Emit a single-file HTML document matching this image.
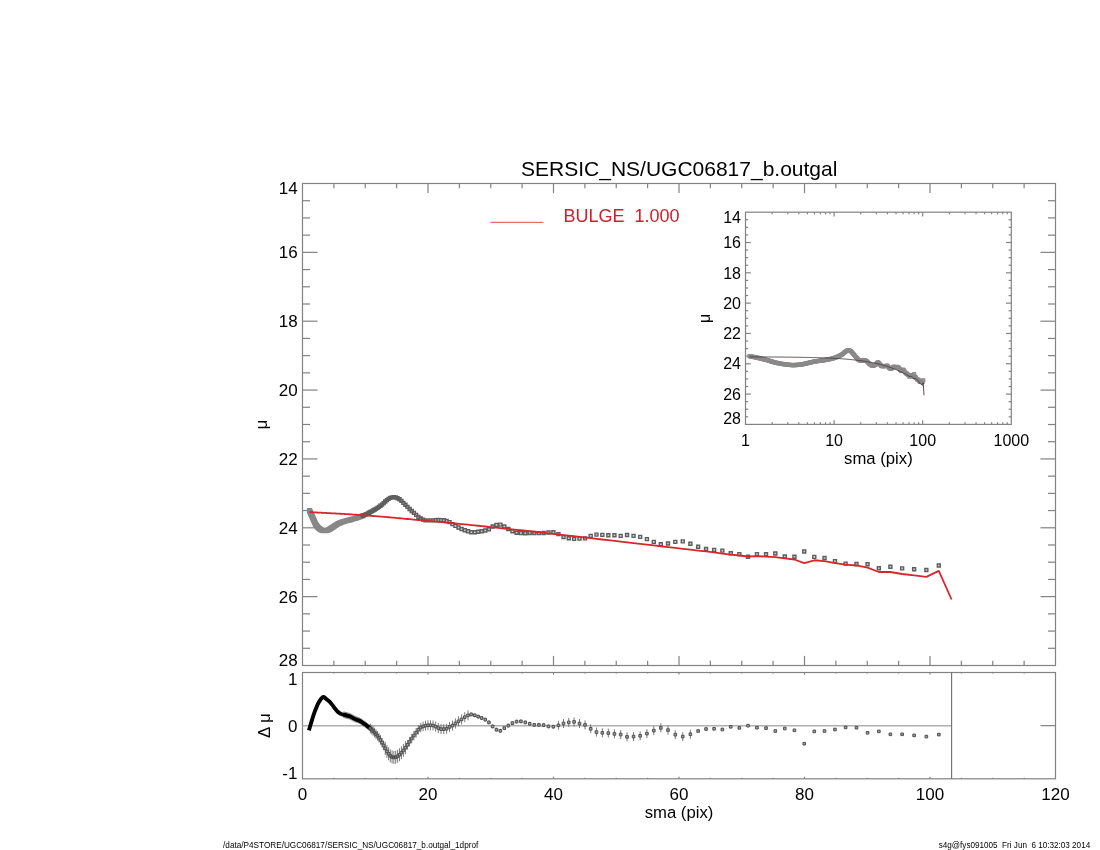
<!DOCTYPE html>
<html><head><meta charset="utf-8"><title>SERSIC_NS/UGC06817_b.outgal</title>
<style>
html,body{margin:0;padding:0;background:#fff;}
body{width:1100px;height:850px;overflow:hidden;}
svg{display:block;will-change:transform;filter:blur(0.4px);font-family:"Liberation Sans",Arial,Helvetica,sans-serif;}
</style></head><body>
<svg width="1100" height="850" viewBox="0 0 1100 850">
<rect width="1100" height="850" fill="#fff"/>
<rect x="302.5" y="183.5" width="753.00" height="482.00" fill="none" stroke="#828282" stroke-width="1.2"/>
<line x1="302.50" y1="200.71" x2="310.00" y2="200.71" stroke="#828282" stroke-width="1.2"/>
<line x1="1055.50" y1="200.71" x2="1048.00" y2="200.71" stroke="#828282" stroke-width="1.2"/>
<line x1="302.50" y1="217.93" x2="310.00" y2="217.93" stroke="#828282" stroke-width="1.2"/>
<line x1="1055.50" y1="217.93" x2="1048.00" y2="217.93" stroke="#828282" stroke-width="1.2"/>
<line x1="302.50" y1="235.14" x2="310.00" y2="235.14" stroke="#828282" stroke-width="1.2"/>
<line x1="1055.50" y1="235.14" x2="1048.00" y2="235.14" stroke="#828282" stroke-width="1.2"/>
<line x1="302.50" y1="252.36" x2="317.50" y2="252.36" stroke="#828282" stroke-width="1.2"/>
<line x1="1055.50" y1="252.36" x2="1040.50" y2="252.36" stroke="#828282" stroke-width="1.2"/>
<line x1="302.50" y1="269.57" x2="310.00" y2="269.57" stroke="#828282" stroke-width="1.2"/>
<line x1="1055.50" y1="269.57" x2="1048.00" y2="269.57" stroke="#828282" stroke-width="1.2"/>
<line x1="302.50" y1="286.79" x2="310.00" y2="286.79" stroke="#828282" stroke-width="1.2"/>
<line x1="1055.50" y1="286.79" x2="1048.00" y2="286.79" stroke="#828282" stroke-width="1.2"/>
<line x1="302.50" y1="304.00" x2="310.00" y2="304.00" stroke="#828282" stroke-width="1.2"/>
<line x1="1055.50" y1="304.00" x2="1048.00" y2="304.00" stroke="#828282" stroke-width="1.2"/>
<line x1="302.50" y1="321.21" x2="317.50" y2="321.21" stroke="#828282" stroke-width="1.2"/>
<line x1="1055.50" y1="321.21" x2="1040.50" y2="321.21" stroke="#828282" stroke-width="1.2"/>
<line x1="302.50" y1="338.43" x2="310.00" y2="338.43" stroke="#828282" stroke-width="1.2"/>
<line x1="1055.50" y1="338.43" x2="1048.00" y2="338.43" stroke="#828282" stroke-width="1.2"/>
<line x1="302.50" y1="355.64" x2="310.00" y2="355.64" stroke="#828282" stroke-width="1.2"/>
<line x1="1055.50" y1="355.64" x2="1048.00" y2="355.64" stroke="#828282" stroke-width="1.2"/>
<line x1="302.50" y1="372.86" x2="310.00" y2="372.86" stroke="#828282" stroke-width="1.2"/>
<line x1="1055.50" y1="372.86" x2="1048.00" y2="372.86" stroke="#828282" stroke-width="1.2"/>
<line x1="302.50" y1="390.07" x2="317.50" y2="390.07" stroke="#828282" stroke-width="1.2"/>
<line x1="1055.50" y1="390.07" x2="1040.50" y2="390.07" stroke="#828282" stroke-width="1.2"/>
<line x1="302.50" y1="407.29" x2="310.00" y2="407.29" stroke="#828282" stroke-width="1.2"/>
<line x1="1055.50" y1="407.29" x2="1048.00" y2="407.29" stroke="#828282" stroke-width="1.2"/>
<line x1="302.50" y1="424.50" x2="310.00" y2="424.50" stroke="#828282" stroke-width="1.2"/>
<line x1="1055.50" y1="424.50" x2="1048.00" y2="424.50" stroke="#828282" stroke-width="1.2"/>
<line x1="302.50" y1="441.71" x2="310.00" y2="441.71" stroke="#828282" stroke-width="1.2"/>
<line x1="1055.50" y1="441.71" x2="1048.00" y2="441.71" stroke="#828282" stroke-width="1.2"/>
<line x1="302.50" y1="458.93" x2="317.50" y2="458.93" stroke="#828282" stroke-width="1.2"/>
<line x1="1055.50" y1="458.93" x2="1040.50" y2="458.93" stroke="#828282" stroke-width="1.2"/>
<line x1="302.50" y1="476.14" x2="310.00" y2="476.14" stroke="#828282" stroke-width="1.2"/>
<line x1="1055.50" y1="476.14" x2="1048.00" y2="476.14" stroke="#828282" stroke-width="1.2"/>
<line x1="302.50" y1="493.36" x2="310.00" y2="493.36" stroke="#828282" stroke-width="1.2"/>
<line x1="1055.50" y1="493.36" x2="1048.00" y2="493.36" stroke="#828282" stroke-width="1.2"/>
<line x1="302.50" y1="510.57" x2="310.00" y2="510.57" stroke="#828282" stroke-width="1.2"/>
<line x1="1055.50" y1="510.57" x2="1048.00" y2="510.57" stroke="#828282" stroke-width="1.2"/>
<line x1="302.50" y1="527.79" x2="317.50" y2="527.79" stroke="#828282" stroke-width="1.2"/>
<line x1="1055.50" y1="527.79" x2="1040.50" y2="527.79" stroke="#828282" stroke-width="1.2"/>
<line x1="302.50" y1="545.00" x2="310.00" y2="545.00" stroke="#828282" stroke-width="1.2"/>
<line x1="1055.50" y1="545.00" x2="1048.00" y2="545.00" stroke="#828282" stroke-width="1.2"/>
<line x1="302.50" y1="562.21" x2="310.00" y2="562.21" stroke="#828282" stroke-width="1.2"/>
<line x1="1055.50" y1="562.21" x2="1048.00" y2="562.21" stroke="#828282" stroke-width="1.2"/>
<line x1="302.50" y1="579.43" x2="310.00" y2="579.43" stroke="#828282" stroke-width="1.2"/>
<line x1="1055.50" y1="579.43" x2="1048.00" y2="579.43" stroke="#828282" stroke-width="1.2"/>
<line x1="302.50" y1="596.64" x2="317.50" y2="596.64" stroke="#828282" stroke-width="1.2"/>
<line x1="1055.50" y1="596.64" x2="1040.50" y2="596.64" stroke="#828282" stroke-width="1.2"/>
<line x1="302.50" y1="613.86" x2="310.00" y2="613.86" stroke="#828282" stroke-width="1.2"/>
<line x1="1055.50" y1="613.86" x2="1048.00" y2="613.86" stroke="#828282" stroke-width="1.2"/>
<line x1="302.50" y1="631.07" x2="310.00" y2="631.07" stroke="#828282" stroke-width="1.2"/>
<line x1="1055.50" y1="631.07" x2="1048.00" y2="631.07" stroke="#828282" stroke-width="1.2"/>
<line x1="302.50" y1="648.29" x2="310.00" y2="648.29" stroke="#828282" stroke-width="1.2"/>
<line x1="1055.50" y1="648.29" x2="1048.00" y2="648.29" stroke="#828282" stroke-width="1.2"/>
<line x1="333.88" y1="183.50" x2="333.88" y2="188.30" stroke="#828282" stroke-width="1.2"/>
<line x1="333.88" y1="665.50" x2="333.88" y2="660.70" stroke="#828282" stroke-width="1.2"/>
<line x1="365.25" y1="183.50" x2="365.25" y2="188.30" stroke="#828282" stroke-width="1.2"/>
<line x1="365.25" y1="665.50" x2="365.25" y2="660.70" stroke="#828282" stroke-width="1.2"/>
<line x1="396.62" y1="183.50" x2="396.62" y2="188.30" stroke="#828282" stroke-width="1.2"/>
<line x1="396.62" y1="665.50" x2="396.62" y2="660.70" stroke="#828282" stroke-width="1.2"/>
<line x1="428.00" y1="183.50" x2="428.00" y2="193.10" stroke="#828282" stroke-width="1.2"/>
<line x1="428.00" y1="665.50" x2="428.00" y2="655.90" stroke="#828282" stroke-width="1.2"/>
<line x1="459.38" y1="183.50" x2="459.38" y2="188.30" stroke="#828282" stroke-width="1.2"/>
<line x1="459.38" y1="665.50" x2="459.38" y2="660.70" stroke="#828282" stroke-width="1.2"/>
<line x1="490.75" y1="183.50" x2="490.75" y2="188.30" stroke="#828282" stroke-width="1.2"/>
<line x1="490.75" y1="665.50" x2="490.75" y2="660.70" stroke="#828282" stroke-width="1.2"/>
<line x1="522.12" y1="183.50" x2="522.12" y2="188.30" stroke="#828282" stroke-width="1.2"/>
<line x1="522.12" y1="665.50" x2="522.12" y2="660.70" stroke="#828282" stroke-width="1.2"/>
<line x1="553.50" y1="183.50" x2="553.50" y2="193.10" stroke="#828282" stroke-width="1.2"/>
<line x1="553.50" y1="665.50" x2="553.50" y2="655.90" stroke="#828282" stroke-width="1.2"/>
<line x1="584.88" y1="183.50" x2="584.88" y2="188.30" stroke="#828282" stroke-width="1.2"/>
<line x1="584.88" y1="665.50" x2="584.88" y2="660.70" stroke="#828282" stroke-width="1.2"/>
<line x1="616.25" y1="183.50" x2="616.25" y2="188.30" stroke="#828282" stroke-width="1.2"/>
<line x1="616.25" y1="665.50" x2="616.25" y2="660.70" stroke="#828282" stroke-width="1.2"/>
<line x1="647.62" y1="183.50" x2="647.62" y2="188.30" stroke="#828282" stroke-width="1.2"/>
<line x1="647.62" y1="665.50" x2="647.62" y2="660.70" stroke="#828282" stroke-width="1.2"/>
<line x1="679.00" y1="183.50" x2="679.00" y2="193.10" stroke="#828282" stroke-width="1.2"/>
<line x1="679.00" y1="665.50" x2="679.00" y2="655.90" stroke="#828282" stroke-width="1.2"/>
<line x1="710.38" y1="183.50" x2="710.38" y2="188.30" stroke="#828282" stroke-width="1.2"/>
<line x1="710.38" y1="665.50" x2="710.38" y2="660.70" stroke="#828282" stroke-width="1.2"/>
<line x1="741.75" y1="183.50" x2="741.75" y2="188.30" stroke="#828282" stroke-width="1.2"/>
<line x1="741.75" y1="665.50" x2="741.75" y2="660.70" stroke="#828282" stroke-width="1.2"/>
<line x1="773.12" y1="183.50" x2="773.12" y2="188.30" stroke="#828282" stroke-width="1.2"/>
<line x1="773.12" y1="665.50" x2="773.12" y2="660.70" stroke="#828282" stroke-width="1.2"/>
<line x1="804.50" y1="183.50" x2="804.50" y2="193.10" stroke="#828282" stroke-width="1.2"/>
<line x1="804.50" y1="665.50" x2="804.50" y2="655.90" stroke="#828282" stroke-width="1.2"/>
<line x1="835.88" y1="183.50" x2="835.88" y2="188.30" stroke="#828282" stroke-width="1.2"/>
<line x1="835.88" y1="665.50" x2="835.88" y2="660.70" stroke="#828282" stroke-width="1.2"/>
<line x1="867.25" y1="183.50" x2="867.25" y2="188.30" stroke="#828282" stroke-width="1.2"/>
<line x1="867.25" y1="665.50" x2="867.25" y2="660.70" stroke="#828282" stroke-width="1.2"/>
<line x1="898.62" y1="183.50" x2="898.62" y2="188.30" stroke="#828282" stroke-width="1.2"/>
<line x1="898.62" y1="665.50" x2="898.62" y2="660.70" stroke="#828282" stroke-width="1.2"/>
<line x1="930.00" y1="183.50" x2="930.00" y2="193.10" stroke="#828282" stroke-width="1.2"/>
<line x1="930.00" y1="665.50" x2="930.00" y2="655.90" stroke="#828282" stroke-width="1.2"/>
<line x1="961.38" y1="183.50" x2="961.38" y2="188.30" stroke="#828282" stroke-width="1.2"/>
<line x1="961.38" y1="665.50" x2="961.38" y2="660.70" stroke="#828282" stroke-width="1.2"/>
<line x1="992.75" y1="183.50" x2="992.75" y2="188.30" stroke="#828282" stroke-width="1.2"/>
<line x1="992.75" y1="665.50" x2="992.75" y2="660.70" stroke="#828282" stroke-width="1.2"/>
<line x1="1024.12" y1="183.50" x2="1024.12" y2="188.30" stroke="#828282" stroke-width="1.2"/>
<line x1="1024.12" y1="665.50" x2="1024.12" y2="660.70" stroke="#828282" stroke-width="1.2"/>
<text x="297.60" y="193.50" font-size="17" text-anchor="end" fill="#000" >14</text>
<text x="297.60" y="258.46" font-size="17" text-anchor="end" fill="#000" >16</text>
<text x="297.60" y="327.31" font-size="17" text-anchor="end" fill="#000" >18</text>
<text x="297.60" y="396.17" font-size="17" text-anchor="end" fill="#000" >20</text>
<text x="297.60" y="465.03" font-size="17" text-anchor="end" fill="#000" >22</text>
<text x="297.60" y="533.89" font-size="17" text-anchor="end" fill="#000" >24</text>
<text x="297.60" y="602.74" font-size="17" text-anchor="end" fill="#000" >26</text>
<text x="297.60" y="665.90" font-size="17" text-anchor="end" fill="#000" >28</text>
<text x="0" y="0" font-size="17" text-anchor="middle" transform="translate(267.0,424.50) rotate(-90)">&#956;</text>
<rect x="302.5" y="672.5" width="753.00" height="106.30" fill="none" stroke="#828282" stroke-width="1.2"/>
<line x1="333.88" y1="672.50" x2="333.88" y2="673.60" stroke="#828282" stroke-width="1.2"/>
<line x1="333.88" y1="778.80" x2="333.88" y2="777.70" stroke="#828282" stroke-width="1.2"/>
<line x1="365.25" y1="672.50" x2="365.25" y2="673.60" stroke="#828282" stroke-width="1.2"/>
<line x1="365.25" y1="778.80" x2="365.25" y2="777.70" stroke="#828282" stroke-width="1.2"/>
<line x1="396.62" y1="672.50" x2="396.62" y2="673.60" stroke="#828282" stroke-width="1.2"/>
<line x1="396.62" y1="778.80" x2="396.62" y2="777.70" stroke="#828282" stroke-width="1.2"/>
<line x1="428.00" y1="672.50" x2="428.00" y2="674.60" stroke="#828282" stroke-width="1.2"/>
<line x1="428.00" y1="778.80" x2="428.00" y2="776.70" stroke="#828282" stroke-width="1.2"/>
<line x1="459.38" y1="672.50" x2="459.38" y2="673.60" stroke="#828282" stroke-width="1.2"/>
<line x1="459.38" y1="778.80" x2="459.38" y2="777.70" stroke="#828282" stroke-width="1.2"/>
<line x1="490.75" y1="672.50" x2="490.75" y2="673.60" stroke="#828282" stroke-width="1.2"/>
<line x1="490.75" y1="778.80" x2="490.75" y2="777.70" stroke="#828282" stroke-width="1.2"/>
<line x1="522.12" y1="672.50" x2="522.12" y2="673.60" stroke="#828282" stroke-width="1.2"/>
<line x1="522.12" y1="778.80" x2="522.12" y2="777.70" stroke="#828282" stroke-width="1.2"/>
<line x1="553.50" y1="672.50" x2="553.50" y2="674.60" stroke="#828282" stroke-width="1.2"/>
<line x1="553.50" y1="778.80" x2="553.50" y2="776.70" stroke="#828282" stroke-width="1.2"/>
<line x1="584.88" y1="672.50" x2="584.88" y2="673.60" stroke="#828282" stroke-width="1.2"/>
<line x1="584.88" y1="778.80" x2="584.88" y2="777.70" stroke="#828282" stroke-width="1.2"/>
<line x1="616.25" y1="672.50" x2="616.25" y2="673.60" stroke="#828282" stroke-width="1.2"/>
<line x1="616.25" y1="778.80" x2="616.25" y2="777.70" stroke="#828282" stroke-width="1.2"/>
<line x1="647.62" y1="672.50" x2="647.62" y2="673.60" stroke="#828282" stroke-width="1.2"/>
<line x1="647.62" y1="778.80" x2="647.62" y2="777.70" stroke="#828282" stroke-width="1.2"/>
<line x1="679.00" y1="672.50" x2="679.00" y2="674.60" stroke="#828282" stroke-width="1.2"/>
<line x1="679.00" y1="778.80" x2="679.00" y2="776.70" stroke="#828282" stroke-width="1.2"/>
<line x1="710.38" y1="672.50" x2="710.38" y2="673.60" stroke="#828282" stroke-width="1.2"/>
<line x1="710.38" y1="778.80" x2="710.38" y2="777.70" stroke="#828282" stroke-width="1.2"/>
<line x1="741.75" y1="672.50" x2="741.75" y2="673.60" stroke="#828282" stroke-width="1.2"/>
<line x1="741.75" y1="778.80" x2="741.75" y2="777.70" stroke="#828282" stroke-width="1.2"/>
<line x1="773.12" y1="672.50" x2="773.12" y2="673.60" stroke="#828282" stroke-width="1.2"/>
<line x1="773.12" y1="778.80" x2="773.12" y2="777.70" stroke="#828282" stroke-width="1.2"/>
<line x1="804.50" y1="672.50" x2="804.50" y2="674.60" stroke="#828282" stroke-width="1.2"/>
<line x1="804.50" y1="778.80" x2="804.50" y2="776.70" stroke="#828282" stroke-width="1.2"/>
<line x1="835.88" y1="672.50" x2="835.88" y2="673.60" stroke="#828282" stroke-width="1.2"/>
<line x1="835.88" y1="778.80" x2="835.88" y2="777.70" stroke="#828282" stroke-width="1.2"/>
<line x1="867.25" y1="672.50" x2="867.25" y2="673.60" stroke="#828282" stroke-width="1.2"/>
<line x1="867.25" y1="778.80" x2="867.25" y2="777.70" stroke="#828282" stroke-width="1.2"/>
<line x1="898.62" y1="672.50" x2="898.62" y2="673.60" stroke="#828282" stroke-width="1.2"/>
<line x1="898.62" y1="778.80" x2="898.62" y2="777.70" stroke="#828282" stroke-width="1.2"/>
<line x1="930.00" y1="672.50" x2="930.00" y2="674.60" stroke="#828282" stroke-width="1.2"/>
<line x1="930.00" y1="778.80" x2="930.00" y2="776.70" stroke="#828282" stroke-width="1.2"/>
<line x1="961.38" y1="672.50" x2="961.38" y2="673.60" stroke="#828282" stroke-width="1.2"/>
<line x1="961.38" y1="778.80" x2="961.38" y2="777.70" stroke="#828282" stroke-width="1.2"/>
<line x1="992.75" y1="672.50" x2="992.75" y2="673.60" stroke="#828282" stroke-width="1.2"/>
<line x1="992.75" y1="778.80" x2="992.75" y2="777.70" stroke="#828282" stroke-width="1.2"/>
<line x1="1024.12" y1="672.50" x2="1024.12" y2="673.60" stroke="#828282" stroke-width="1.2"/>
<line x1="1024.12" y1="778.80" x2="1024.12" y2="777.70" stroke="#828282" stroke-width="1.2"/>
<line x1="1055.50" y1="725.65" x2="1040.50" y2="725.65" stroke="#828282" stroke-width="1.2"/>
<text x="297.40" y="684.60" font-size="17" text-anchor="end" fill="#000" >1</text>
<text x="297.40" y="731.75" font-size="17" text-anchor="end" fill="#000" >0</text>
<text x="297.40" y="779.00" font-size="17" text-anchor="end" fill="#000" >-1</text>
<text x="0" y="0" font-size="17" text-anchor="middle" transform="translate(270.0,725.65) rotate(-90)">&#916; &#956;</text>
<text x="302.50" y="800.10" font-size="17" text-anchor="middle" fill="#000" >0</text>
<text x="428.00" y="800.10" font-size="17" text-anchor="middle" fill="#000" >20</text>
<text x="553.50" y="800.10" font-size="17" text-anchor="middle" fill="#000" >40</text>
<text x="679.00" y="800.10" font-size="17" text-anchor="middle" fill="#000" >60</text>
<text x="804.50" y="800.10" font-size="17" text-anchor="middle" fill="#000" >80</text>
<text x="930.00" y="800.10" font-size="17" text-anchor="middle" fill="#000" >100</text>
<text x="1055.50" y="800.10" font-size="17" text-anchor="middle" fill="#000" >120</text>
<text x="679.00" y="818.00" font-size="16.7" text-anchor="middle" fill="#000" >sma (pix)</text>
<text x="679.20" y="175.50" font-size="21" text-anchor="middle" fill="#000" >SERSIC_NS/UGC06817_b.outgal</text>
<line x1="490.50" y1="222.30" x2="543.40" y2="222.30" stroke="#e3484d" stroke-width="1.0"/>
<text x="563.40" y="222.00" font-size="18" text-anchor="start" fill="#cf1f29" >BULGE&#160;&#160;1.000</text>
<rect x="745.5" y="212.2" width="265.80" height="212.20" fill="none" stroke="#828282" stroke-width="1.2"/>
<line x1="745.50" y1="219.78" x2="748.15" y2="219.78" stroke="#828282" stroke-width="1.2"/>
<line x1="1011.30" y1="219.78" x2="1008.65" y2="219.78" stroke="#828282" stroke-width="1.2"/>
<line x1="745.50" y1="227.36" x2="748.15" y2="227.36" stroke="#828282" stroke-width="1.2"/>
<line x1="1011.30" y1="227.36" x2="1008.65" y2="227.36" stroke="#828282" stroke-width="1.2"/>
<line x1="745.50" y1="234.94" x2="748.15" y2="234.94" stroke="#828282" stroke-width="1.2"/>
<line x1="1011.30" y1="234.94" x2="1008.65" y2="234.94" stroke="#828282" stroke-width="1.2"/>
<line x1="745.50" y1="242.51" x2="750.80" y2="242.51" stroke="#828282" stroke-width="1.2"/>
<line x1="1011.30" y1="242.51" x2="1006.00" y2="242.51" stroke="#828282" stroke-width="1.2"/>
<line x1="745.50" y1="250.09" x2="748.15" y2="250.09" stroke="#828282" stroke-width="1.2"/>
<line x1="1011.30" y1="250.09" x2="1008.65" y2="250.09" stroke="#828282" stroke-width="1.2"/>
<line x1="745.50" y1="257.67" x2="748.15" y2="257.67" stroke="#828282" stroke-width="1.2"/>
<line x1="1011.30" y1="257.67" x2="1008.65" y2="257.67" stroke="#828282" stroke-width="1.2"/>
<line x1="745.50" y1="265.25" x2="748.15" y2="265.25" stroke="#828282" stroke-width="1.2"/>
<line x1="1011.30" y1="265.25" x2="1008.65" y2="265.25" stroke="#828282" stroke-width="1.2"/>
<line x1="745.50" y1="272.83" x2="750.80" y2="272.83" stroke="#828282" stroke-width="1.2"/>
<line x1="1011.30" y1="272.83" x2="1006.00" y2="272.83" stroke="#828282" stroke-width="1.2"/>
<line x1="745.50" y1="280.41" x2="748.15" y2="280.41" stroke="#828282" stroke-width="1.2"/>
<line x1="1011.30" y1="280.41" x2="1008.65" y2="280.41" stroke="#828282" stroke-width="1.2"/>
<line x1="745.50" y1="287.99" x2="748.15" y2="287.99" stroke="#828282" stroke-width="1.2"/>
<line x1="1011.30" y1="287.99" x2="1008.65" y2="287.99" stroke="#828282" stroke-width="1.2"/>
<line x1="745.50" y1="295.56" x2="748.15" y2="295.56" stroke="#828282" stroke-width="1.2"/>
<line x1="1011.30" y1="295.56" x2="1008.65" y2="295.56" stroke="#828282" stroke-width="1.2"/>
<line x1="745.50" y1="303.14" x2="750.80" y2="303.14" stroke="#828282" stroke-width="1.2"/>
<line x1="1011.30" y1="303.14" x2="1006.00" y2="303.14" stroke="#828282" stroke-width="1.2"/>
<line x1="745.50" y1="310.72" x2="748.15" y2="310.72" stroke="#828282" stroke-width="1.2"/>
<line x1="1011.30" y1="310.72" x2="1008.65" y2="310.72" stroke="#828282" stroke-width="1.2"/>
<line x1="745.50" y1="318.30" x2="748.15" y2="318.30" stroke="#828282" stroke-width="1.2"/>
<line x1="1011.30" y1="318.30" x2="1008.65" y2="318.30" stroke="#828282" stroke-width="1.2"/>
<line x1="745.50" y1="325.88" x2="748.15" y2="325.88" stroke="#828282" stroke-width="1.2"/>
<line x1="1011.30" y1="325.88" x2="1008.65" y2="325.88" stroke="#828282" stroke-width="1.2"/>
<line x1="745.50" y1="333.46" x2="750.80" y2="333.46" stroke="#828282" stroke-width="1.2"/>
<line x1="1011.30" y1="333.46" x2="1006.00" y2="333.46" stroke="#828282" stroke-width="1.2"/>
<line x1="745.50" y1="341.04" x2="748.15" y2="341.04" stroke="#828282" stroke-width="1.2"/>
<line x1="1011.30" y1="341.04" x2="1008.65" y2="341.04" stroke="#828282" stroke-width="1.2"/>
<line x1="745.50" y1="348.61" x2="748.15" y2="348.61" stroke="#828282" stroke-width="1.2"/>
<line x1="1011.30" y1="348.61" x2="1008.65" y2="348.61" stroke="#828282" stroke-width="1.2"/>
<line x1="745.50" y1="356.19" x2="748.15" y2="356.19" stroke="#828282" stroke-width="1.2"/>
<line x1="1011.30" y1="356.19" x2="1008.65" y2="356.19" stroke="#828282" stroke-width="1.2"/>
<line x1="745.50" y1="363.77" x2="750.80" y2="363.77" stroke="#828282" stroke-width="1.2"/>
<line x1="1011.30" y1="363.77" x2="1006.00" y2="363.77" stroke="#828282" stroke-width="1.2"/>
<line x1="745.50" y1="371.35" x2="748.15" y2="371.35" stroke="#828282" stroke-width="1.2"/>
<line x1="1011.30" y1="371.35" x2="1008.65" y2="371.35" stroke="#828282" stroke-width="1.2"/>
<line x1="745.50" y1="378.93" x2="748.15" y2="378.93" stroke="#828282" stroke-width="1.2"/>
<line x1="1011.30" y1="378.93" x2="1008.65" y2="378.93" stroke="#828282" stroke-width="1.2"/>
<line x1="745.50" y1="386.51" x2="748.15" y2="386.51" stroke="#828282" stroke-width="1.2"/>
<line x1="1011.30" y1="386.51" x2="1008.65" y2="386.51" stroke="#828282" stroke-width="1.2"/>
<line x1="745.50" y1="394.09" x2="750.80" y2="394.09" stroke="#828282" stroke-width="1.2"/>
<line x1="1011.30" y1="394.09" x2="1006.00" y2="394.09" stroke="#828282" stroke-width="1.2"/>
<line x1="745.50" y1="401.66" x2="748.15" y2="401.66" stroke="#828282" stroke-width="1.2"/>
<line x1="1011.30" y1="401.66" x2="1008.65" y2="401.66" stroke="#828282" stroke-width="1.2"/>
<line x1="745.50" y1="409.24" x2="748.15" y2="409.24" stroke="#828282" stroke-width="1.2"/>
<line x1="1011.30" y1="409.24" x2="1008.65" y2="409.24" stroke="#828282" stroke-width="1.2"/>
<line x1="745.50" y1="416.82" x2="748.15" y2="416.82" stroke="#828282" stroke-width="1.2"/>
<line x1="1011.30" y1="416.82" x2="1008.65" y2="416.82" stroke="#828282" stroke-width="1.2"/>
<line x1="772.17" y1="212.20" x2="772.17" y2="214.30" stroke="#828282" stroke-width="1.2"/>
<line x1="772.17" y1="424.40" x2="772.17" y2="422.30" stroke="#828282" stroke-width="1.2"/>
<line x1="787.77" y1="212.20" x2="787.77" y2="214.30" stroke="#828282" stroke-width="1.2"/>
<line x1="787.77" y1="424.40" x2="787.77" y2="422.30" stroke="#828282" stroke-width="1.2"/>
<line x1="798.84" y1="212.20" x2="798.84" y2="214.30" stroke="#828282" stroke-width="1.2"/>
<line x1="798.84" y1="424.40" x2="798.84" y2="422.30" stroke="#828282" stroke-width="1.2"/>
<line x1="807.43" y1="212.20" x2="807.43" y2="214.30" stroke="#828282" stroke-width="1.2"/>
<line x1="807.43" y1="424.40" x2="807.43" y2="422.30" stroke="#828282" stroke-width="1.2"/>
<line x1="814.44" y1="212.20" x2="814.44" y2="214.30" stroke="#828282" stroke-width="1.2"/>
<line x1="814.44" y1="424.40" x2="814.44" y2="422.30" stroke="#828282" stroke-width="1.2"/>
<line x1="820.38" y1="212.20" x2="820.38" y2="214.30" stroke="#828282" stroke-width="1.2"/>
<line x1="820.38" y1="424.40" x2="820.38" y2="422.30" stroke="#828282" stroke-width="1.2"/>
<line x1="825.51" y1="212.20" x2="825.51" y2="214.30" stroke="#828282" stroke-width="1.2"/>
<line x1="825.51" y1="424.40" x2="825.51" y2="422.30" stroke="#828282" stroke-width="1.2"/>
<line x1="830.05" y1="212.20" x2="830.05" y2="214.30" stroke="#828282" stroke-width="1.2"/>
<line x1="830.05" y1="424.40" x2="830.05" y2="422.30" stroke="#828282" stroke-width="1.2"/>
<line x1="834.10" y1="212.20" x2="834.10" y2="216.40" stroke="#828282" stroke-width="1.2"/>
<line x1="834.10" y1="424.40" x2="834.10" y2="420.20" stroke="#828282" stroke-width="1.2"/>
<line x1="860.77" y1="212.20" x2="860.77" y2="214.30" stroke="#828282" stroke-width="1.2"/>
<line x1="860.77" y1="424.40" x2="860.77" y2="422.30" stroke="#828282" stroke-width="1.2"/>
<line x1="876.37" y1="212.20" x2="876.37" y2="214.30" stroke="#828282" stroke-width="1.2"/>
<line x1="876.37" y1="424.40" x2="876.37" y2="422.30" stroke="#828282" stroke-width="1.2"/>
<line x1="887.44" y1="212.20" x2="887.44" y2="214.30" stroke="#828282" stroke-width="1.2"/>
<line x1="887.44" y1="424.40" x2="887.44" y2="422.30" stroke="#828282" stroke-width="1.2"/>
<line x1="896.03" y1="212.20" x2="896.03" y2="214.30" stroke="#828282" stroke-width="1.2"/>
<line x1="896.03" y1="424.40" x2="896.03" y2="422.30" stroke="#828282" stroke-width="1.2"/>
<line x1="903.04" y1="212.20" x2="903.04" y2="214.30" stroke="#828282" stroke-width="1.2"/>
<line x1="903.04" y1="424.40" x2="903.04" y2="422.30" stroke="#828282" stroke-width="1.2"/>
<line x1="908.98" y1="212.20" x2="908.98" y2="214.30" stroke="#828282" stroke-width="1.2"/>
<line x1="908.98" y1="424.40" x2="908.98" y2="422.30" stroke="#828282" stroke-width="1.2"/>
<line x1="914.11" y1="212.20" x2="914.11" y2="214.30" stroke="#828282" stroke-width="1.2"/>
<line x1="914.11" y1="424.40" x2="914.11" y2="422.30" stroke="#828282" stroke-width="1.2"/>
<line x1="918.65" y1="212.20" x2="918.65" y2="214.30" stroke="#828282" stroke-width="1.2"/>
<line x1="918.65" y1="424.40" x2="918.65" y2="422.30" stroke="#828282" stroke-width="1.2"/>
<line x1="922.70" y1="212.20" x2="922.70" y2="216.40" stroke="#828282" stroke-width="1.2"/>
<line x1="922.70" y1="424.40" x2="922.70" y2="420.20" stroke="#828282" stroke-width="1.2"/>
<line x1="949.37" y1="212.20" x2="949.37" y2="214.30" stroke="#828282" stroke-width="1.2"/>
<line x1="949.37" y1="424.40" x2="949.37" y2="422.30" stroke="#828282" stroke-width="1.2"/>
<line x1="964.97" y1="212.20" x2="964.97" y2="214.30" stroke="#828282" stroke-width="1.2"/>
<line x1="964.97" y1="424.40" x2="964.97" y2="422.30" stroke="#828282" stroke-width="1.2"/>
<line x1="976.04" y1="212.20" x2="976.04" y2="214.30" stroke="#828282" stroke-width="1.2"/>
<line x1="976.04" y1="424.40" x2="976.04" y2="422.30" stroke="#828282" stroke-width="1.2"/>
<line x1="984.63" y1="212.20" x2="984.63" y2="214.30" stroke="#828282" stroke-width="1.2"/>
<line x1="984.63" y1="424.40" x2="984.63" y2="422.30" stroke="#828282" stroke-width="1.2"/>
<line x1="991.64" y1="212.20" x2="991.64" y2="214.30" stroke="#828282" stroke-width="1.2"/>
<line x1="991.64" y1="424.40" x2="991.64" y2="422.30" stroke="#828282" stroke-width="1.2"/>
<line x1="997.58" y1="212.20" x2="997.58" y2="214.30" stroke="#828282" stroke-width="1.2"/>
<line x1="997.58" y1="424.40" x2="997.58" y2="422.30" stroke="#828282" stroke-width="1.2"/>
<line x1="1002.71" y1="212.20" x2="1002.71" y2="214.30" stroke="#828282" stroke-width="1.2"/>
<line x1="1002.71" y1="424.40" x2="1002.71" y2="422.30" stroke="#828282" stroke-width="1.2"/>
<line x1="1007.25" y1="212.20" x2="1007.25" y2="214.30" stroke="#828282" stroke-width="1.2"/>
<line x1="1007.25" y1="424.40" x2="1007.25" y2="422.30" stroke="#828282" stroke-width="1.2"/>
<text x="741.00" y="222.70" font-size="16" text-anchor="end" fill="#000" >14</text>
<text x="741.00" y="248.21" font-size="16" text-anchor="end" fill="#000" >16</text>
<text x="741.00" y="278.53" font-size="16" text-anchor="end" fill="#000" >18</text>
<text x="741.00" y="308.84" font-size="16" text-anchor="end" fill="#000" >20</text>
<text x="741.00" y="339.16" font-size="16" text-anchor="end" fill="#000" >22</text>
<text x="741.00" y="369.47" font-size="16" text-anchor="end" fill="#000" >24</text>
<text x="741.00" y="399.79" font-size="16" text-anchor="end" fill="#000" >26</text>
<text x="741.00" y="423.90" font-size="16" text-anchor="end" fill="#000" >28</text>
<text x="745.50" y="446.00" font-size="16" text-anchor="middle" fill="#000" >1</text>
<text x="834.10" y="446.00" font-size="16" text-anchor="middle" fill="#000" >10</text>
<text x="922.70" y="446.00" font-size="16" text-anchor="middle" fill="#000" >100</text>
<text x="1011.30" y="446.00" font-size="16" text-anchor="middle" fill="#000" >1000</text>
<text x="878.40" y="463.60" font-size="16.7" text-anchor="middle" fill="#000" >sma (pix)</text>
<text x="0" y="0" font-size="16" text-anchor="middle" transform="translate(710.0,318.30) rotate(-90)">&#956;</text>
<text x="223.10" y="847.90" font-size="8.2" text-anchor="start" fill="#000" >/data/P4STORE/UGC06817/SERSIC_NS/UGC06817_b.outgal_1dprof</text>
<text x="1090.20" y="847.90" font-size="8.15" text-anchor="end" fill="#000" >s4g@fys091005&#160;&#160;Fri Jun&#160;&#160;6 10:32:03 2014</text>
<g id="main-data">
<path d="M306.91 507.97h5.1v5.1h-5.1zM307.05 508.29h5.1v5.1h-5.1zM307.20 508.62h5.1v5.1h-5.1zM307.34 508.96h5.1v5.1h-5.1zM307.49 509.30h5.1v5.1h-5.1zM307.64 509.64h5.1v5.1h-5.1zM307.79 510.00h5.1v5.1h-5.1zM307.95 510.35h5.1v5.1h-5.1zM308.11 510.72h5.1v5.1h-5.1zM308.27 511.09h5.1v5.1h-5.1zM308.44 511.47h5.1v5.1h-5.1zM308.61 511.85h5.1v5.1h-5.1zM308.78 512.24h5.1v5.1h-5.1zM308.96 512.63h5.1v5.1h-5.1zM309.14 513.03h5.1v5.1h-5.1zM309.32 513.44h5.1v5.1h-5.1zM309.51 513.85h5.1v5.1h-5.1zM309.70 514.27h5.1v5.1h-5.1zM309.90 514.70h5.1v5.1h-5.1zM310.10 515.14h5.1v5.1h-5.1zM310.30 515.58h5.1v5.1h-5.1zM310.50 516.02h5.1v5.1h-5.1zM310.72 516.48h5.1v5.1h-5.1zM310.93 516.94h5.1v5.1h-5.1zM311.15 517.43h5.1v5.1h-5.1zM311.37 517.94h5.1v5.1h-5.1zM311.60 518.47h5.1v5.1h-5.1zM311.84 519.00h5.1v5.1h-5.1zM312.07 519.55h5.1v5.1h-5.1zM312.32 520.09h5.1v5.1h-5.1zM312.56 520.63h5.1v5.1h-5.1zM312.82 521.16h5.1v5.1h-5.1zM313.07 521.67h5.1v5.1h-5.1zM313.34 522.15h5.1v5.1h-5.1zM313.60 522.59h5.1v5.1h-5.1zM313.88 522.99h5.1v5.1h-5.1zM314.16 523.36h5.1v5.1h-5.1zM314.44 523.72h5.1v5.1h-5.1zM314.73 524.08h5.1v5.1h-5.1zM315.03 524.42h5.1v5.1h-5.1zM315.33 524.76h5.1v5.1h-5.1zM315.63 525.08h5.1v5.1h-5.1zM315.95 525.39h5.1v5.1h-5.1zM316.27 525.68h5.1v5.1h-5.1zM316.59 525.95h5.1v5.1h-5.1zM316.93 526.21h5.1v5.1h-5.1zM317.27 526.44h5.1v5.1h-5.1zM317.61 526.65h5.1v5.1h-5.1zM317.97 526.86h5.1v5.1h-5.1zM318.33 527.07h5.1v5.1h-5.1zM318.69 527.28h5.1v5.1h-5.1zM319.07 527.49h5.1v5.1h-5.1zM319.45 527.68h5.1v5.1h-5.1zM319.84 527.86h5.1v5.1h-5.1zM320.24 528.01h5.1v5.1h-5.1zM320.64 528.13h5.1v5.1h-5.1zM321.06 528.21h5.1v5.1h-5.1zM321.48 528.25h5.1v5.1h-5.1zM321.91 528.24h5.1v5.1h-5.1zM322.35 528.20h5.1v5.1h-5.1zM322.80 528.13h5.1v5.1h-5.1zM323.26 528.04h5.1v5.1h-5.1zM323.72 527.93h5.1v5.1h-5.1zM324.20 527.80h5.1v5.1h-5.1zM324.68 527.66h5.1v5.1h-5.1zM325.18 527.50h5.1v5.1h-5.1zM325.68 527.34h5.1v5.1h-5.1zM326.20 527.14h5.1v5.1h-5.1zM326.72 526.89h5.1v5.1h-5.1zM327.26 526.58h5.1v5.1h-5.1zM327.80 526.23h5.1v5.1h-5.1zM328.36 525.86h5.1v5.1h-5.1zM328.93 525.46h5.1v5.1h-5.1zM329.51 525.07h5.1v5.1h-5.1zM330.10 524.68h5.1v5.1h-5.1zM330.70 524.30h5.1v5.1h-5.1zM331.32 523.89h5.1v5.1h-5.1zM331.94 523.46h5.1v5.1h-5.1zM332.58 523.02h5.1v5.1h-5.1zM333.24 522.58h5.1v5.1h-5.1zM333.90 522.14h5.1v5.1h-5.1zM334.58 521.73h5.1v5.1h-5.1zM335.27 521.34h5.1v5.1h-5.1zM335.98 520.99h5.1v5.1h-5.1zM336.70 520.67h5.1v5.1h-5.1zM337.44 520.35h5.1v5.1h-5.1zM338.19 520.05h5.1v5.1h-5.1zM338.95 519.77h5.1v5.1h-5.1zM339.73 519.49h5.1v5.1h-5.1zM340.53 519.22h5.1v5.1h-5.1zM341.34 518.96h5.1v5.1h-5.1zM342.16 518.71h5.1v5.1h-5.1zM343.01 518.48h5.1v5.1h-5.1zM343.87 518.25h5.1v5.1h-5.1zM344.75 518.02h5.1v5.1h-5.1zM345.64 517.79h5.1v5.1h-5.1zM346.56 517.55h5.1v5.1h-5.1zM347.49 517.29h5.1v5.1h-5.1zM348.44 517.04h5.1v5.1h-5.1zM349.41 516.77h5.1v5.1h-5.1zM350.40 516.50h5.1v5.1h-5.1zM351.41 516.21h5.1v5.1h-5.1zM352.44 515.90h5.1v5.1h-5.1zM353.49 515.58h5.1v5.1h-5.1zM354.56 515.24h5.1v5.1h-5.1zM355.65 514.88h5.1v5.1h-5.1zM356.77 514.49h5.1v5.1h-5.1zM357.90 514.09h5.1v5.1h-5.1zM359.06 513.66h5.1v5.1h-5.1zM360.24 513.20h5.1v5.1h-5.1z" fill="#878787"/>
<path d="M361.29 514.25h3.0v3.0h-3.0zM362.50 513.75h3.0v3.0h-3.0zM363.73 513.22h3.0v3.0h-3.0zM364.98 512.64h3.0v3.0h-3.0zM366.26 511.99h3.0v3.0h-3.0zM367.57 511.30h3.0v3.0h-3.0zM368.90 510.57h3.0v3.0h-3.0zM370.26 509.83h3.0v3.0h-3.0zM371.64 509.05h3.0v3.0h-3.0zM373.06 508.23h3.0v3.0h-3.0zM374.50 507.35h3.0v3.0h-3.0zM375.97 506.41h3.0v3.0h-3.0zM377.47 505.41h3.0v3.0h-3.0zM379.00 504.31h3.0v3.0h-3.0zM380.56 503.09h3.0v3.0h-3.0zM382.15 501.58h3.0v3.0h-3.0zM383.77 499.96h3.0v3.0h-3.0zM385.43 498.60h3.0v3.0h-3.0zM387.11 497.34h3.0v3.0h-3.0zM388.84 496.38h3.0v3.0h-3.0zM390.59 495.92h3.0v3.0h-3.0zM392.38 495.70h3.0v3.0h-3.0zM394.21 495.99h3.0v3.0h-3.0zM396.08 496.72h3.0v3.0h-3.0zM397.98 497.73h3.0v3.0h-3.0zM399.92 499.37h3.0v3.0h-3.0zM401.90 501.33h3.0v3.0h-3.0zM403.91 503.27h3.0v3.0h-3.0zM405.97 505.38h3.0v3.0h-3.0zM408.07 507.47h3.0v3.0h-3.0zM410.21 509.47h3.0v3.0h-3.0zM412.40 511.42h3.0v3.0h-3.0zM414.63 513.34h3.0v3.0h-3.0zM416.90 515.38h3.0v3.0h-3.0zM419.22 517.01h3.0v3.0h-3.0zM421.58 518.09h3.0v3.0h-3.0zM423.99 518.83h3.0v3.0h-3.0zM426.45 518.90h3.0v3.0h-3.0zM428.96 518.90h3.0v3.0h-3.0zM431.52 518.85h3.0v3.0h-3.0zM434.13 518.59h3.0v3.0h-3.0zM436.79 518.51h3.0v3.0h-3.0zM439.51 518.60h3.0v3.0h-3.0zM442.28 518.82h3.0v3.0h-3.0zM445.10 519.48h3.0v3.0h-3.0zM447.99 520.61h3.0v3.0h-3.0zM450.93 522.64h3.0v3.0h-3.0zM453.92 524.42h3.0v3.0h-3.0zM456.98 526.00h3.0v3.0h-3.0zM460.10 527.49h3.0v3.0h-3.0zM463.28 528.80h3.0v3.0h-3.0zM466.53 529.70h3.0v3.0h-3.0zM469.84 530.80h3.0v3.0h-3.0zM473.22 530.80h3.0v3.0h-3.0zM476.66 530.20h3.0v3.0h-3.0zM480.18 529.70h3.0v3.0h-3.0zM483.76 529.00h3.0v3.0h-3.0zM487.41 527.80h3.0v3.0h-3.0zM491.14 525.00h3.0v3.0h-3.0zM494.95 523.40h3.0v3.0h-3.0zM498.82 523.10h3.0v3.0h-3.0zM502.78 525.00h3.0v3.0h-3.0zM506.82 527.50h3.0v3.0h-3.0zM510.93 529.70h3.0v3.0h-3.0zM515.13 531.30h3.0v3.0h-3.0zM519.41 531.60h3.0v3.0h-3.0zM523.78 531.80h3.0v3.0h-3.0zM528.24 531.50h3.0v3.0h-3.0zM532.78 531.50h3.0v3.0h-3.0zM537.42 531.60h3.0v3.0h-3.0zM542.15 531.50h3.0v3.0h-3.0zM546.97 531.00h3.0v3.0h-3.0zM551.89 530.70h3.0v3.0h-3.0zM556.91 532.60h3.0v3.0h-3.0zM562.02 535.50h3.0v3.0h-3.0zM567.25 536.70h3.0v3.0h-3.0zM572.57 537.40h3.0v3.0h-3.0zM578.00 537.10h3.0v3.0h-3.0zM583.54 536.90h3.0v3.0h-3.0zM589.19 534.40h3.0v3.0h-3.0zM594.96 533.10h3.0v3.0h-3.0zM600.84 533.40h3.0v3.0h-3.0zM606.83 533.80h3.0v3.0h-3.0zM612.95 533.80h3.0v3.0h-3.0zM619.19 534.40h3.0v3.0h-3.0zM625.55 533.50h3.0v3.0h-3.0zM632.04 534.40h3.0v3.0h-3.0zM638.66 535.40h3.0v3.0h-3.0zM645.42 537.60h3.0v3.0h-3.0zM652.31 540.40h3.0v3.0h-3.0zM659.33 542.70h3.0v3.0h-3.0zM666.50 542.00h3.0v3.0h-3.0zM673.81 540.40h3.0v3.0h-3.0zM681.26 539.90h3.0v3.0h-3.0zM688.87 542.30h3.0v3.0h-3.0zM696.63 545.20h3.0v3.0h-3.0zM704.54 547.50h3.0v3.0h-3.0zM712.61 548.40h3.0v3.0h-3.0zM720.84 549.10h3.0v3.0h-3.0zM729.24 551.70h3.0v3.0h-3.0zM737.80 552.60h3.0v3.0h-3.0zM746.54 555.30h3.0v3.0h-3.0zM755.45 552.60h3.0v3.0h-3.0zM764.54 552.80h3.0v3.0h-3.0zM773.81 552.00h3.0v3.0h-3.0zM783.27 555.00h3.0v3.0h-3.0zM792.91 555.20h3.0v3.0h-3.0zM802.75 550.00h3.0v3.0h-3.0zM812.79 555.40h3.0v3.0h-3.0zM823.02 556.50h3.0v3.0h-3.0zM833.46 559.60h3.0v3.0h-3.0zM844.11 562.10h3.0v3.0h-3.0zM854.97 562.50h3.0v3.0h-3.0zM866.05 562.80h3.0v3.0h-3.0zM877.35 566.70h3.0v3.0h-3.0zM888.88 565.30h3.0v3.0h-3.0zM900.64 566.90h3.0v3.0h-3.0zM912.63 567.80h3.0v3.0h-3.0zM924.86 568.50h3.0v3.0h-3.0zM937.34 564.00h3.0v3.0h-3.0z" fill="#d0d0d0" stroke="#5e5e5e" stroke-width="1.4"/>
</g>
<polyline points="309.46,512.10 309.60,512.11 309.75,512.11 309.89,512.12 310.04,512.13 310.19,512.14 310.34,512.15 310.50,512.15 310.66,512.16 310.82,512.17 310.99,512.18 311.16,512.19 311.33,512.20 311.51,512.21 311.69,512.22 311.87,512.23 312.06,512.24 312.25,512.25 312.45,512.26 312.65,512.27 312.85,512.28 313.05,512.29 313.27,512.30 313.48,512.31 313.70,512.32 313.92,512.34 314.15,512.35 314.39,512.36 314.62,512.37 314.87,512.39 315.11,512.40 315.37,512.41 315.62,512.43 315.89,512.44 316.15,512.46 316.43,512.47 316.71,512.49 316.99,512.50 317.28,512.52 317.58,512.53 317.88,512.55 318.18,512.56 318.50,512.58 318.82,512.60 319.14,512.62 319.48,512.63 319.82,512.65 320.16,512.67 320.52,512.69 320.88,512.71 321.24,512.73 321.62,512.75 322.00,512.77 322.39,512.79 322.79,512.81 323.19,512.83 323.61,512.86 324.03,512.88 324.46,512.90 324.90,512.92 325.35,512.95 325.81,512.97 326.27,513.00 326.75,513.02 327.23,513.05 327.73,513.08 328.23,513.10 328.75,513.13 329.27,513.16 329.81,513.19 330.35,513.22 330.91,513.25 331.48,513.28 332.06,513.31 332.65,513.34 333.25,513.37 333.87,513.40 334.49,513.44 335.13,513.47 335.79,513.51 336.45,513.54 337.13,513.58 337.82,513.62 338.53,513.65 339.25,513.69 339.99,513.73 340.74,513.77 341.50,513.81 342.28,513.85 343.08,513.90 343.89,513.94 344.71,513.98 345.56,514.04 346.42,514.09 347.30,514.15 348.19,514.21 349.11,514.27 350.04,514.34 350.99,514.40 351.96,514.46 352.95,514.53 353.96,514.60 354.99,514.67 356.04,514.74 357.11,514.81 358.20,514.88 359.32,514.95 360.45,515.03 361.61,515.12 362.79,515.21 364.00,515.30 365.23,515.40 366.48,515.49 367.76,515.59 369.07,515.69 370.40,515.79 371.76,515.89 373.14,516.00 374.56,516.11 376.00,516.22 377.47,516.33 378.97,516.44 380.50,516.56 382.06,516.68 383.65,516.80 385.27,516.92 386.93,517.08 388.61,517.23 390.34,517.39 392.09,517.56 393.88,517.72 395.71,517.89 397.58,518.06 399.48,518.24 401.42,518.42 403.40,518.60 405.41,518.79 407.47,518.98 409.57,519.18 411.71,519.37 413.90,519.58 416.13,519.79 418.40,520.00 420.72,520.22 423.08,520.45 425.49,520.68 427.95,520.91 430.46,521.15 433.02,521.39 435.63,521.63 438.29,521.89 441.01,522.14 443.78,522.40 446.60,522.67 449.49,522.94 452.43,523.22 455.42,523.51 458.48,523.79 461.60,524.09 464.78,524.39 468.03,524.71 471.34,525.05 474.72,525.41 478.16,525.77 481.68,526.13 485.26,526.51 488.91,526.89 492.64,527.28 496.45,527.68 500.32,528.08 504.28,528.50 508.32,528.92 512.43,529.35 516.63,529.79 520.91,530.24 525.28,530.72 529.74,531.23 534.28,531.74 538.92,532.27 543.65,532.81 548.47,533.35 553.39,533.91 558.41,534.48 563.52,535.06 568.75,535.66 574.07,536.26 579.50,536.88 585.04,537.50 590.69,538.16 596.46,538.82 602.34,539.50 608.33,540.19 614.45,540.90 620.69,541.62 627.05,542.35 633.54,543.10 640.16,543.87 646.92,544.64 653.81,545.44 660.83,546.25 668.00,547.07 675.31,547.91 682.76,548.77 690.37,549.64 698.13,550.53 706.04,551.44 714.11,552.48 722.34,553.57 730.74,554.53 739.30,555.51 748.04,556.50 756.95,556.10 766.04,556.64 775.31,557.19 784.77,558.47 794.41,559.49 804.25,563.05 814.29,560.26 824.52,561.08 834.96,563.07 845.61,564.67 856.47,565.49 867.55,567.55 878.85,571.98 890.38,572.00 902.14,573.99 914.13,575.29 926.36,576.88 938.84,570.90 951.57,599.50" fill="none" stroke="#d9262b" stroke-width="1.8" stroke-linejoin="round"/>
<g id="resid">
<line x1="302.5" y1="725.65" x2="951.6" y2="725.65" stroke="#b0b0b0" stroke-width="1.5"/>
<line x1="951.6" y1="672.50" x2="951.6" y2="778.80" stroke="#6e6e6e" stroke-width="1.1"/>
<path d="M343.89 711.58v6.40M344.71 711.78v6.40M345.56 711.99v6.40M346.42 712.21v6.40M347.30 712.43v6.40M348.19 712.65v6.40M349.11 712.90v6.40M350.04 713.22v6.40M350.99 713.66v6.40M351.96 714.23v6.40M352.95 714.83v6.40M353.96 715.38v6.40M354.99 715.83v6.40M356.04 716.23v6.40M357.11 716.61v6.40M358.20 717.01v6.40M359.32 717.47v6.40M360.45 718.04v6.40M361.61 718.75v6.40M362.79 719.57v6.40M364.00 720.44v6.40M365.23 721.32v6.40M366.48 722.22v6.40M367.76 723.17v6.40M369.07 724.19v6.40M370.40 723.72v9.60M371.76 724.94v9.60M373.14 726.28v9.60M374.56 727.73v9.60M376.00 729.29v9.60M377.47 730.99v9.60M378.97 732.90v9.60M380.50 735.16v9.60M382.06 737.81v9.60M383.65 740.61v9.60M385.27 741.93v13.00M386.93 744.90v13.00M388.61 747.27v13.00M390.34 749.34v13.00M392.09 750.45v13.00M393.88 750.94v13.00M395.71 750.76v13.00M397.58 749.68v13.00M399.48 748.27v13.00M401.42 746.26v13.00M403.40 743.94v13.00M405.41 741.24v13.00M407.47 740.03v9.60M409.57 736.89v9.60M411.71 733.76v9.60M413.90 730.74v9.60M416.13 727.86v9.60M418.40 724.94v9.60M420.72 722.88v9.60M423.08 721.58v9.60M425.49 720.66v10.00M427.95 720.24v10.00M430.46 720.25v10.00M433.02 720.48v10.00M435.63 721.62v10.00M438.29 723.05v10.00M441.01 724.10v10.00M443.78 724.12v10.00M446.60 723.74v10.00M449.49 721.94v10.00M452.43 720.60v10.00M455.42 718.50v10.00M458.48 716.30v10.00M461.60 714.40v10.00M464.78 712.20v10.00M468.03 710.30v10.00M471.34 712.40v4.00M474.72 713.30v4.00M478.16 714.60v4.00M481.68 716.00v4.00M485.26 717.60v4.00M488.91 720.40v4.00M492.64 724.40v4.00M496.45 727.70v4.00M500.32 728.80v4.00M504.28 726.10v4.00M508.32 723.60v4.00M512.43 721.10v4.00M516.63 719.60v4.00M520.91 719.40v4.00M525.28 720.40v4.00M529.74 721.80v4.00M534.28 722.90v4.00M538.92 722.90v4.00M543.65 723.10v4.00M548.47 724.40v4.00M553.39 724.70v4.00M558.41 720.80v9.00M563.52 719.00v9.00M568.75 717.90v9.00M574.07 717.40v9.00M579.50 719.00v9.00M585.04 720.40v9.00M590.69 724.30v9.00M596.46 727.60v9.00M602.34 728.30v9.00M608.33 728.60v9.00M614.45 729.40v9.00M620.69 730.00v9.00M627.05 732.40v9.00M633.54 732.10v9.00M640.16 731.30v9.00M646.92 729.10v9.00M653.81 726.10v9.00M660.83 723.40v9.00M668.00 725.60v9.00M675.31 730.20v9.00M682.76 732.10v9.00M690.37 729.70v9.00M698.13 730.00v2.00M706.04 728.00v2.00M714.11 727.80v2.00M722.34 728.50v2.00M730.74 725.80v2.00M739.30 726.90v2.00M748.04 724.70v2.00M756.95 726.70v2.00M766.04 727.10v2.00M775.31 730.00v2.00M784.77 727.50v2.00M794.41 729.30v2.00M804.25 742.70v2.00M814.29 730.40v2.00M824.52 730.00v2.00M834.96 728.50v2.00M845.61 726.40v2.00M856.47 726.70v2.00M867.55 731.80v2.00M878.85 730.40v2.00M890.38 733.30v2.00M902.14 733.30v2.00M914.13 734.40v2.00M926.36 735.60v2.00M938.84 733.60v2.00" stroke="#6a6a6a" stroke-width="0.9" fill="none"/>
<polyline points="309.46,728.46 309.60,727.99 309.75,727.51 309.89,727.03 310.04,726.54 310.19,726.03 310.34,725.52 310.50,725.00 310.66,724.47 310.82,723.93 310.99,723.38 311.16,722.82 311.33,722.25 311.51,721.67 311.69,721.08 311.87,720.47 312.06,719.84 312.25,719.20 312.45,718.55 312.65,717.90 312.85,717.23 313.05,716.57 313.27,715.91 313.48,715.25 313.70,714.61 313.92,713.96 314.15,713.32 314.39,712.67 314.62,712.03 314.87,711.39 315.11,710.74 315.37,710.09 315.62,709.44 315.89,708.78 316.15,708.12 316.43,707.44 316.71,706.75 316.99,706.06 317.28,705.37 317.58,704.70 317.88,704.04 318.18,703.42 318.50,702.83 318.82,702.25 319.14,701.68 319.48,701.12 319.82,700.59 320.16,700.07 320.52,699.59 320.88,699.14 321.24,698.72 321.62,698.27 322.00,697.83 322.39,697.43 322.79,697.11 323.19,696.93 323.61,696.92 324.03,697.07 324.46,697.35 324.90,697.72 325.35,698.14 325.81,698.58 326.27,698.98 326.75,699.34 327.23,699.71 327.73,700.08 328.23,700.48 328.75,700.91 329.27,701.38 329.81,701.91 330.35,702.50 330.91,703.16 331.48,703.87 332.06,704.61 332.65,705.36 333.25,706.16 333.87,707.02 334.49,707.91 335.13,708.78 335.79,709.58 336.45,710.35 337.13,711.11 337.82,711.83 338.53,712.46 339.25,712.96 339.99,713.37 340.74,713.73 341.50,714.05 342.28,714.33 343.08,714.57 343.89,714.78 344.71,714.98 345.56,715.19 346.42,715.41 347.30,715.63 348.19,715.85 349.11,716.10 350.04,716.42 350.99,716.86 351.96,717.43 352.95,718.03 353.96,718.58 354.99,719.03 356.04,719.43 357.11,719.81 358.20,720.21 359.32,720.67 360.45,721.24 361.61,721.95 362.79,722.77 364.00,723.64 365.23,724.52 366.48,725.42 367.76,726.37 369.07,727.39 370.40,728.52" fill="none" stroke="#000" stroke-width="3.9" stroke-linejoin="round" stroke-linecap="square"/>
<path d="M369.10 727.22h2.6v2.6h-2.6zM370.46 728.44h2.6v2.6h-2.6zM371.84 729.78h2.6v2.6h-2.6zM373.26 731.23h2.6v2.6h-2.6zM374.70 732.79h2.6v2.6h-2.6zM376.17 734.49h2.6v2.6h-2.6zM377.67 736.40h2.6v2.6h-2.6zM379.20 738.66h2.6v2.6h-2.6zM380.76 741.31h2.6v2.6h-2.6zM382.35 744.11h2.6v2.6h-2.6zM383.97 747.13h2.6v2.6h-2.6zM385.63 750.10h2.6v2.6h-2.6zM387.31 752.47h2.6v2.6h-2.6zM389.04 754.54h2.6v2.6h-2.6zM390.79 755.65h2.6v2.6h-2.6zM392.58 756.14h2.6v2.6h-2.6zM394.41 755.96h2.6v2.6h-2.6zM396.28 754.88h2.6v2.6h-2.6zM398.18 753.47h2.6v2.6h-2.6zM400.12 751.46h2.6v2.6h-2.6zM402.10 749.14h2.6v2.6h-2.6zM404.11 746.44h2.6v2.6h-2.6zM406.17 743.53h2.6v2.6h-2.6zM408.27 740.39h2.6v2.6h-2.6zM410.41 737.26h2.6v2.6h-2.6zM412.60 734.24h2.6v2.6h-2.6zM414.83 731.36h2.6v2.6h-2.6zM417.10 728.44h2.6v2.6h-2.6zM419.42 726.38h2.6v2.6h-2.6zM421.78 725.08h2.6v2.6h-2.6zM424.19 724.36h2.6v2.6h-2.6zM426.65 723.94h2.6v2.6h-2.6zM429.16 723.95h2.6v2.6h-2.6zM431.72 724.18h2.6v2.6h-2.6zM434.33 725.32h2.6v2.6h-2.6zM436.99 726.75h2.6v2.6h-2.6zM439.71 727.80h2.6v2.6h-2.6zM442.48 727.82h2.6v2.6h-2.6zM445.30 727.44h2.6v2.6h-2.6zM448.19 725.64h2.6v2.6h-2.6zM451.13 724.30h2.6v2.6h-2.6zM454.12 722.20h2.6v2.6h-2.6zM457.18 720.00h2.6v2.6h-2.6zM460.30 718.10h2.6v2.6h-2.6zM463.48 715.90h2.6v2.6h-2.6zM466.73 714.00h2.6v2.6h-2.6zM470.04 713.10h2.6v2.6h-2.6zM473.42 714.00h2.6v2.6h-2.6zM476.86 715.30h2.6v2.6h-2.6zM480.38 716.70h2.6v2.6h-2.6zM483.96 718.30h2.6v2.6h-2.6zM487.61 721.10h2.6v2.6h-2.6zM491.34 725.10h2.6v2.6h-2.6zM495.15 728.40h2.6v2.6h-2.6zM499.02 729.50h2.6v2.6h-2.6zM502.98 726.80h2.6v2.6h-2.6zM507.02 724.30h2.6v2.6h-2.6zM511.13 721.80h2.6v2.6h-2.6zM515.33 720.30h2.6v2.6h-2.6zM519.61 720.10h2.6v2.6h-2.6zM523.98 721.10h2.6v2.6h-2.6zM528.44 722.50h2.6v2.6h-2.6zM532.98 723.60h2.6v2.6h-2.6zM537.62 723.60h2.6v2.6h-2.6zM542.35 723.80h2.6v2.6h-2.6zM547.17 725.10h2.6v2.6h-2.6zM552.09 725.40h2.6v2.6h-2.6zM557.11 724.00h2.6v2.6h-2.6zM562.22 722.20h2.6v2.6h-2.6zM567.45 721.10h2.6v2.6h-2.6zM572.77 720.60h2.6v2.6h-2.6zM578.20 722.20h2.6v2.6h-2.6zM583.74 723.60h2.6v2.6h-2.6zM589.39 727.50h2.6v2.6h-2.6zM595.16 730.80h2.6v2.6h-2.6zM601.04 731.50h2.6v2.6h-2.6zM607.03 731.80h2.6v2.6h-2.6zM613.15 732.60h2.6v2.6h-2.6zM619.39 733.20h2.6v2.6h-2.6zM625.75 735.60h2.6v2.6h-2.6zM632.24 735.30h2.6v2.6h-2.6zM638.86 734.50h2.6v2.6h-2.6zM645.62 732.30h2.6v2.6h-2.6zM652.51 729.30h2.6v2.6h-2.6zM659.53 726.60h2.6v2.6h-2.6zM666.70 728.80h2.6v2.6h-2.6zM674.01 733.40h2.6v2.6h-2.6zM681.46 735.30h2.6v2.6h-2.6zM689.07 732.90h2.6v2.6h-2.6zM696.83 729.70h2.6v2.6h-2.6zM704.74 727.70h2.6v2.6h-2.6zM712.81 727.50h2.6v2.6h-2.6zM721.04 728.20h2.6v2.6h-2.6zM729.44 725.50h2.6v2.6h-2.6zM738.00 726.60h2.6v2.6h-2.6zM746.74 724.40h2.6v2.6h-2.6zM755.65 726.40h2.6v2.6h-2.6zM764.74 726.80h2.6v2.6h-2.6zM774.01 729.70h2.6v2.6h-2.6zM783.47 727.20h2.6v2.6h-2.6zM793.11 729.00h2.6v2.6h-2.6zM802.95 742.40h2.6v2.6h-2.6zM812.99 730.10h2.6v2.6h-2.6zM823.22 729.70h2.6v2.6h-2.6zM833.66 728.20h2.6v2.6h-2.6zM844.31 726.10h2.6v2.6h-2.6zM855.17 726.40h2.6v2.6h-2.6zM866.25 731.50h2.6v2.6h-2.6zM877.55 730.10h2.6v2.6h-2.6zM889.08 733.00h2.6v2.6h-2.6zM900.84 733.00h2.6v2.6h-2.6zM912.83 734.10h2.6v2.6h-2.6zM925.06 735.30h2.6v2.6h-2.6zM937.54 733.30h2.6v2.6h-2.6z" fill="#a0a0a0" stroke="#505050" stroke-width="1.0"/>
</g>
<g id="inset-data">
<path d="M747.86 354.52h3.3v3.3h-3.3zM748.62 354.66h3.3v3.3h-3.3zM749.38 354.81h3.3v3.3h-3.3zM750.14 354.95h3.3v3.3h-3.3zM750.91 355.10h3.3v3.3h-3.3zM751.67 355.26h3.3v3.3h-3.3zM752.43 355.41h3.3v3.3h-3.3zM753.19 355.57h3.3v3.3h-3.3zM753.95 355.73h3.3v3.3h-3.3zM754.72 355.89h3.3v3.3h-3.3zM755.48 356.06h3.3v3.3h-3.3zM756.24 356.23h3.3v3.3h-3.3zM757.00 356.40h3.3v3.3h-3.3zM757.76 356.57h3.3v3.3h-3.3zM758.53 356.75h3.3v3.3h-3.3zM759.29 356.93h3.3v3.3h-3.3zM760.05 357.11h3.3v3.3h-3.3zM760.81 357.30h3.3v3.3h-3.3zM761.57 357.48h3.3v3.3h-3.3zM762.34 357.67h3.3v3.3h-3.3zM763.10 357.87h3.3v3.3h-3.3zM763.86 358.07h3.3v3.3h-3.3zM764.62 358.27h3.3v3.3h-3.3zM765.38 358.47h3.3v3.3h-3.3zM766.15 358.69h3.3v3.3h-3.3zM766.91 358.91h3.3v3.3h-3.3zM767.67 359.14h3.3v3.3h-3.3zM768.43 359.38h3.3v3.3h-3.3zM769.19 359.62h3.3v3.3h-3.3zM769.96 359.86h3.3v3.3h-3.3zM770.72 360.09h3.3v3.3h-3.3zM771.48 360.33h3.3v3.3h-3.3zM772.24 360.55h3.3v3.3h-3.3zM773.00 360.76h3.3v3.3h-3.3zM773.77 360.96h3.3v3.3h-3.3zM774.53 361.13h3.3v3.3h-3.3zM775.29 361.29h3.3v3.3h-3.3zM776.05 361.45h3.3v3.3h-3.3zM776.81 361.61h3.3v3.3h-3.3zM777.58 361.76h3.3v3.3h-3.3zM778.34 361.91h3.3v3.3h-3.3zM779.10 362.05h3.3v3.3h-3.3zM779.86 362.19h3.3v3.3h-3.3zM780.62 362.32h3.3v3.3h-3.3zM781.38 362.44h3.3v3.3h-3.3zM782.15 362.55h3.3v3.3h-3.3zM782.91 362.65h3.3v3.3h-3.3zM783.67 362.74h3.3v3.3h-3.3zM784.43 362.84h3.3v3.3h-3.3zM785.19 362.93h3.3v3.3h-3.3zM785.96 363.02h3.3v3.3h-3.3zM786.72 363.11h3.3v3.3h-3.3zM787.48 363.20h3.3v3.3h-3.3zM788.24 363.27h3.3v3.3h-3.3zM789.00 363.34h3.3v3.3h-3.3zM789.77 363.40h3.3v3.3h-3.3zM790.53 363.43h3.3v3.3h-3.3zM791.29 363.45h3.3v3.3h-3.3zM792.05 363.44h3.3v3.3h-3.3zM792.81 363.43h3.3v3.3h-3.3zM793.58 363.40h3.3v3.3h-3.3zM794.34 363.36h3.3v3.3h-3.3zM795.10 363.31h3.3v3.3h-3.3zM795.86 363.25h3.3v3.3h-3.3zM796.62 363.19h3.3v3.3h-3.3zM797.39 363.12h3.3v3.3h-3.3zM798.15 363.05h3.3v3.3h-3.3zM798.91 362.96h3.3v3.3h-3.3zM799.67 362.85h3.3v3.3h-3.3zM800.43 362.71h3.3v3.3h-3.3zM801.20 362.56h3.3v3.3h-3.3zM801.96 362.39h3.3v3.3h-3.3zM802.72 362.22h3.3v3.3h-3.3zM803.48 362.05h3.3v3.3h-3.3zM804.24 361.88h3.3v3.3h-3.3zM805.01 361.71h3.3v3.3h-3.3zM805.77 361.53h3.3v3.3h-3.3zM806.53 361.34h3.3v3.3h-3.3zM807.29 361.15h3.3v3.3h-3.3zM808.05 360.95h3.3v3.3h-3.3zM808.82 360.76h3.3v3.3h-3.3zM809.58 360.58h3.3v3.3h-3.3zM810.34 360.41h3.3v3.3h-3.3zM811.10 360.25h3.3v3.3h-3.3zM811.86 360.11h3.3v3.3h-3.3zM812.63 359.97h3.3v3.3h-3.3zM813.39 359.84h3.3v3.3h-3.3zM814.15 359.71h3.3v3.3h-3.3zM814.91 359.59h3.3v3.3h-3.3zM815.67 359.47h3.3v3.3h-3.3zM816.44 359.36h3.3v3.3h-3.3zM817.20 359.25h3.3v3.3h-3.3zM817.96 359.15h3.3v3.3h-3.3zM818.72 359.05h3.3v3.3h-3.3zM819.48 358.95h3.3v3.3h-3.3zM820.25 358.84h3.3v3.3h-3.3zM821.01 358.74h3.3v3.3h-3.3zM821.77 358.62h3.3v3.3h-3.3zM822.53 358.51h3.3v3.3h-3.3zM823.29 358.40h3.3v3.3h-3.3zM824.06 358.28h3.3v3.3h-3.3zM824.82 358.15h3.3v3.3h-3.3zM825.58 358.01h3.3v3.3h-3.3zM826.34 357.87h3.3v3.3h-3.3zM827.10 357.72h3.3v3.3h-3.3zM827.87 357.56h3.3v3.3h-3.3zM828.63 357.39h3.3v3.3h-3.3zM829.39 357.21h3.3v3.3h-3.3zM830.15 357.02h3.3v3.3h-3.3zM830.91 356.82h3.3v3.3h-3.3zM831.68 356.60h3.3v3.3h-3.3zM832.44 356.37h3.3v3.3h-3.3zM833.20 356.11h3.3v3.3h-3.3zM833.96 355.83h3.3v3.3h-3.3zM834.72 355.52h3.3v3.3h-3.3zM835.49 355.20h3.3v3.3h-3.3zM836.25 354.88h3.3v3.3h-3.3zM837.01 354.53h3.3v3.3h-3.3zM837.77 354.17h3.3v3.3h-3.3zM838.53 353.79h3.3v3.3h-3.3zM839.30 353.37h3.3v3.3h-3.3zM840.06 352.93h3.3v3.3h-3.3zM840.82 352.45h3.3v3.3h-3.3zM841.58 351.91h3.3v3.3h-3.3zM842.34 351.24h3.3v3.3h-3.3zM843.10 350.53h3.3v3.3h-3.3zM843.87 349.93h3.3v3.3h-3.3zM844.63 349.38h3.3v3.3h-3.3zM845.39 348.96h3.3v3.3h-3.3zM846.15 348.75h3.3v3.3h-3.3zM846.91 348.66h3.3v3.3h-3.3zM847.68 348.78h3.3v3.3h-3.3zM848.44 349.11h3.3v3.3h-3.3zM849.20 349.55h3.3v3.3h-3.3zM849.96 350.27h3.3v3.3h-3.3zM850.72 351.13h3.3v3.3h-3.3zM851.49 351.99h3.3v3.3h-3.3zM852.25 352.92h3.3v3.3h-3.3zM853.01 353.84h3.3v3.3h-3.3zM853.77 354.72h3.3v3.3h-3.3zM854.53 355.58h3.3v3.3h-3.3zM855.30 356.42h3.3v3.3h-3.3zM856.06 357.32h3.3v3.3h-3.3zM856.82 358.04h3.3v3.3h-3.3zM857.58 358.51h3.3v3.3h-3.3zM858.34 358.84h3.3v3.3h-3.3zM859.11 358.87h3.3v3.3h-3.3zM859.87 358.87h3.3v3.3h-3.3zM860.63 358.85h3.3v3.3h-3.3zM861.39 358.73h3.3v3.3h-3.3zM862.15 358.70h3.3v3.3h-3.3zM862.92 358.74h3.3v3.3h-3.3zM863.68 358.83h3.3v3.3h-3.3zM864.44 359.12h3.3v3.3h-3.3zM865.20 359.62h3.3v3.3h-3.3zM865.96 360.52h3.3v3.3h-3.3zM866.73 361.30h3.3v3.3h-3.3zM867.49 361.99h3.3v3.3h-3.3zM868.25 362.65h3.3v3.3h-3.3zM869.01 363.23h3.3v3.3h-3.3zM869.77 363.62h3.3v3.3h-3.3zM870.54 364.11h3.3v3.3h-3.3zM871.30 364.11h3.3v3.3h-3.3zM872.06 363.84h3.3v3.3h-3.3zM872.82 363.62h3.3v3.3h-3.3zM873.58 363.32h3.3v3.3h-3.3zM874.35 362.79h3.3v3.3h-3.3zM875.11 361.56h3.3v3.3h-3.3zM875.87 360.85h3.3v3.3h-3.3zM876.63 360.72h3.3v3.3h-3.3zM877.39 361.56h3.3v3.3h-3.3zM878.16 362.66h3.3v3.3h-3.3zM878.92 363.62h3.3v3.3h-3.3zM879.68 364.33h3.3v3.3h-3.3zM880.44 364.46h3.3v3.3h-3.3zM881.20 364.55h3.3v3.3h-3.3zM881.97 364.42h3.3v3.3h-3.3zM882.73 364.42h3.3v3.3h-3.3zM883.49 364.46h3.3v3.3h-3.3zM884.25 364.42h3.3v3.3h-3.3zM885.01 364.20h3.3v3.3h-3.3zM885.78 364.06h3.3v3.3h-3.3zM886.54 364.90h3.3v3.3h-3.3zM887.30 366.18h3.3v3.3h-3.3zM888.06 366.71h3.3v3.3h-3.3zM888.82 367.01h3.3v3.3h-3.3zM889.59 366.88h3.3v3.3h-3.3zM890.35 366.79h3.3v3.3h-3.3zM891.11 365.69h3.3v3.3h-3.3zM891.87 365.12h3.3v3.3h-3.3zM892.63 365.25h3.3v3.3h-3.3zM893.40 365.43h3.3v3.3h-3.3zM894.16 365.43h3.3v3.3h-3.3zM894.92 365.69h3.3v3.3h-3.3zM895.68 365.30h3.3v3.3h-3.3zM896.44 365.69h3.3v3.3h-3.3zM897.21 366.13h3.3v3.3h-3.3zM897.97 367.10h3.3v3.3h-3.3zM898.73 368.34h3.3v3.3h-3.3zM899.49 369.35h3.3v3.3h-3.3zM900.25 369.04h3.3v3.3h-3.3zM901.02 368.34h3.3v3.3h-3.3zM901.78 368.12h3.3v3.3h-3.3zM902.54 369.17h3.3v3.3h-3.3zM903.30 370.45h3.3v3.3h-3.3zM904.06 371.46h3.3v3.3h-3.3zM904.82 371.86h3.3v3.3h-3.3zM905.59 372.17h3.3v3.3h-3.3zM906.35 373.31h3.3v3.3h-3.3zM907.11 373.71h3.3v3.3h-3.3zM907.87 374.89h3.3v3.3h-3.3zM908.63 373.71h3.3v3.3h-3.3zM909.40 373.79h3.3v3.3h-3.3zM910.16 373.44h3.3v3.3h-3.3zM910.92 374.76h3.3v3.3h-3.3zM911.68 374.85h3.3v3.3h-3.3zM912.44 372.56h3.3v3.3h-3.3zM913.21 374.94h3.3v3.3h-3.3zM913.97 375.42h3.3v3.3h-3.3zM914.73 376.79h3.3v3.3h-3.3zM915.49 377.89h3.3v3.3h-3.3zM916.25 378.06h3.3v3.3h-3.3zM917.02 378.20h3.3v3.3h-3.3zM917.78 379.91h3.3v3.3h-3.3zM918.54 379.30h3.3v3.3h-3.3zM919.30 380.00h3.3v3.3h-3.3zM920.06 380.40h3.3v3.3h-3.3zM920.83 380.71h3.3v3.3h-3.3zM921.59 378.73h3.3v3.3h-3.3z" fill="#a8a8a8" stroke="#8a8a8a" stroke-width="1.0"/>
<polyline points="749.51,356.87 750.27,356.87 751.03,356.87 751.79,356.88 752.56,356.88 753.32,356.88 754.08,356.89 754.84,356.89 755.60,356.89 756.37,356.90 757.13,356.90 757.89,356.90 758.65,356.91 759.41,356.91 760.18,356.92 760.94,356.92 761.70,356.93 762.46,356.93 763.22,356.94 763.99,356.94 764.75,356.94 765.51,356.95 766.27,356.95 767.03,356.96 767.80,356.96 768.56,356.97 769.32,356.98 770.08,356.98 770.84,356.99 771.61,356.99 772.37,357.00 773.13,357.00 773.89,357.01 774.65,357.02 775.42,357.02 776.18,357.03 776.94,357.04 777.70,357.04 778.46,357.05 779.23,357.06 779.99,357.06 780.75,357.07 781.51,357.08 782.27,357.09 783.03,357.09 783.80,357.10 784.56,357.11 785.32,357.12 786.08,357.13 786.84,357.13 787.61,357.14 788.37,357.15 789.13,357.16 789.89,357.17 790.65,357.18 791.42,357.19 792.18,357.20 792.94,357.21 793.70,357.22 794.46,357.23 795.23,357.24 795.99,357.25 796.75,357.26 797.51,357.27 798.27,357.28 799.04,357.30 799.80,357.31 800.56,357.32 801.32,357.33 802.08,357.34 802.85,357.36 803.61,357.37 804.37,357.38 805.13,357.40 805.89,357.41 806.66,357.43 807.42,357.44 808.18,357.45 808.94,357.47 809.70,357.49 810.47,357.50 811.23,357.52 811.99,357.53 812.75,357.55 813.51,357.57 814.28,357.58 815.04,357.60 815.80,357.62 816.56,357.64 817.32,357.66 818.09,357.68 818.85,357.70 819.61,357.72 820.37,357.74 821.13,357.77 821.90,357.80 822.66,357.82 823.42,357.85 824.18,357.88 824.94,357.91 825.71,357.94 826.47,357.97 827.23,358.00 827.99,358.03 828.75,358.06 829.52,358.09 830.28,358.12 831.04,358.16 831.80,358.20 832.56,358.24 833.33,358.28 834.09,358.32 834.85,358.36 835.61,358.40 836.37,358.45 837.14,358.49 837.90,358.54 838.66,358.58 839.42,358.63 840.18,358.68 840.95,358.73 841.71,358.78 842.47,358.83 843.23,358.88 843.99,358.93 844.75,358.99 845.52,359.06 846.28,359.13 847.04,359.20 847.80,359.27 848.56,359.34 849.33,359.42 850.09,359.49 850.85,359.57 851.61,359.65 852.37,359.73 853.14,359.81 853.90,359.90 854.66,359.98 855.42,360.07 856.18,360.16 856.95,360.25 857.71,360.35 858.47,360.44 859.23,360.54 859.99,360.64 860.76,360.74 861.52,360.85 862.28,360.95 863.04,361.06 863.80,361.17 864.57,361.29 865.33,361.40 866.09,361.52 866.85,361.64 867.61,361.76 868.38,361.89 869.14,362.01 869.90,362.14 870.66,362.28 871.42,362.42 872.19,362.57 872.95,362.72 873.71,362.88 874.47,363.04 875.23,363.21 876.00,363.38 876.76,363.55 877.52,363.72 878.28,363.90 879.04,364.08 879.81,364.27 880.57,364.46 881.33,364.65 882.09,364.85 882.85,365.06 883.62,365.29 884.38,365.51 885.14,365.75 885.90,365.98 886.66,366.22 887.43,366.47 888.19,366.72 888.95,366.98 889.71,367.24 890.47,367.50 891.24,367.77 892.00,368.05 892.76,368.34 893.52,368.63 894.28,368.93 895.05,369.23 895.81,369.54 896.57,369.86 897.33,370.18 898.09,370.51 898.86,370.85 899.62,371.19 900.38,371.54 901.14,371.90 901.90,372.26 902.67,372.63 903.43,373.01 904.19,373.39 904.95,373.79 905.71,374.19 906.47,374.64 907.24,375.12 908.00,375.54 908.76,375.98 909.52,376.41 910.28,376.24 911.05,376.47 911.81,376.72 912.57,377.28 913.33,377.73 914.09,379.29 914.86,378.07 915.62,378.43 916.38,379.31 917.14,380.01 917.90,380.37 918.67,381.28 919.43,383.23 920.19,383.24 920.95,384.11 921.71,384.69 922.48,385.39 923.24,382.75 924.00,395.34" fill="none" stroke="#4a3838" stroke-width="0.9" stroke-linejoin="round"/>
</g>
</svg>
</body></html>
